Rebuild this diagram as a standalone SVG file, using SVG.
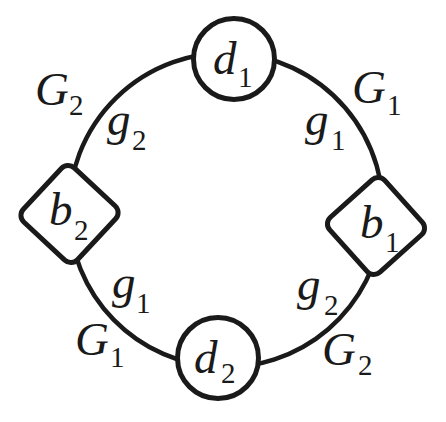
<svg xmlns="http://www.w3.org/2000/svg" width="446" height="422" viewBox="0 0 446 422">
<style>
.edge{fill:none;stroke:#1a1a1a;stroke-width:4.5}
.node{fill:#fff;stroke:#1a1a1a;stroke-width:5}
text{font-family:"Liberation Serif","Times New Roman",serif;fill:#1a1a1a}
.m{font-style:italic;font-size:47px}
.s{font-size:29px}
</style>
<rect width="446" height="422" fill="#fff"/>
<g id="connectors">
<path id="e-d1-b1" class="edge" d="M234,53.2 A157,157 0 0 1 382.2,226"/>
<path id="e-b1-d2" class="edge" d="M382.2,226 A157,157 0 0 1 218,366.8"/>
<path id="e-d2-b2" class="edge" d="M218,366.8 A157,157 0 0 1 69.05,214"/>
<path id="e-b2-d1" class="edge" d="M69.05,214 A157,157 0 0 1 234,53.2"/>
</g>
<g id="edge-labels">
<text x="35" y="105"><tspan class="m">G</tspan><tspan class="s" x="69" y="115">2</tspan></text>
<text x="107" y="135"><tspan class="m">g</tspan><tspan class="s" x="132" y="150">2</tspan></text>
<text x="352" y="103"><tspan class="m">G</tspan><tspan class="s" x="387" y="115">1</tspan></text>
<text x="305" y="135"><tspan class="m">g</tspan><tspan class="s" x="331" y="150">1</tspan></text>
<text x="112" y="298"><tspan class="m">g</tspan><tspan class="s" x="136" y="313">1</tspan></text>
<text x="75" y="355"><tspan class="m">G</tspan><tspan class="s" x="110" y="367">1</tspan></text>
<text x="297" y="300"><tspan class="m">g</tspan><tspan class="s" x="324" y="315">2</tspan></text>
<text x="322" y="365"><tspan class="m">G</tspan><tspan class="s" x="358" y="375">2</tspan></text>
</g>
<g id="d1">
<circle class="node" cx="234" cy="59" r="40.5"/>
<text x="213" y="74"><tspan class="m">d</tspan><tspan class="s" x="238" y="87">1</tspan></text>
</g>
<g id="d2">
<circle class="node" cx="218" cy="358" r="40.5"/>
<text x="194" y="373"><tspan class="m">d</tspan><tspan class="s" x="221" y="383">2</tspan></text>
</g>
<g id="b2">
<rect class="node" x="-37" y="-37" width="74" height="74" rx="9" transform="translate(69.5,214) rotate(43)"/>
<text x="49" y="225"><tspan class="m">b</tspan><tspan class="s" x="74" y="240">2</tspan></text>
</g>
<g id="b1">
<rect class="node" x="-37" y="-37" width="74" height="74" rx="9" transform="translate(376,226) rotate(48)"/>
<text x="360" y="238"><tspan class="m">b</tspan><tspan class="s" x="385" y="252">1</tspan></text>
</g>
</svg>
